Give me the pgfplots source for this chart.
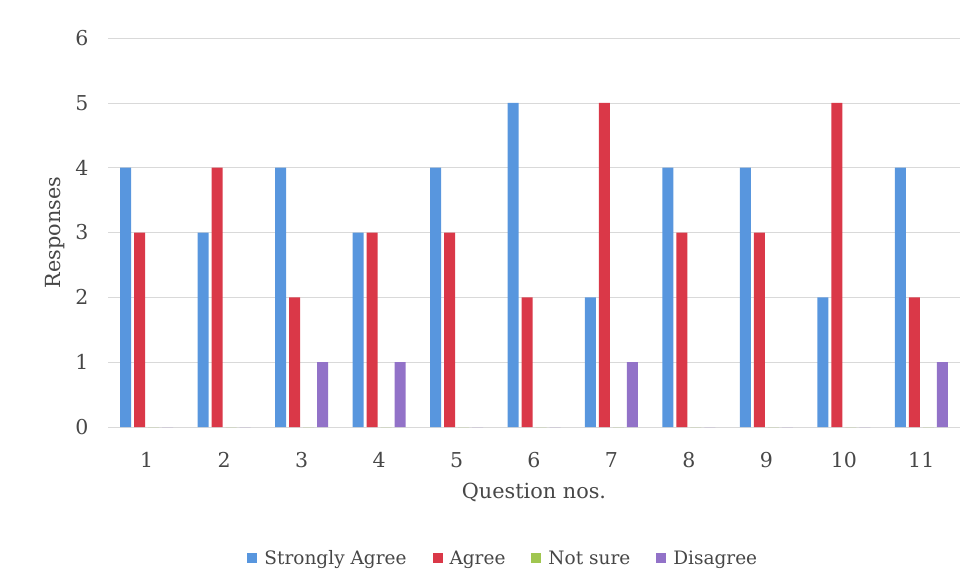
\documentclass[border=0pt]{standalone}
\usepackage{fontspec}
\setmainfont{DejaVu Serif}
\usepackage{pgfplots}
\pgfplotsset{compat=1.18}

\definecolor{saBlue}{RGB}{88,150,222}
\definecolor{agRed}{RGB}{218,56,72}
\definecolor{nsGreen}{RGB}{160,198,80}
\definecolor{dsPurple}{RGB}{146,114,200}

\begin{document}
\begin{tikzpicture}
\useasboundingbox (0,0) rectangle (974pt,587pt);
\begin{axis}[
    at={(108pt,160pt)}, anchor=south west,
    scale only axis, width=852pt, height=389pt,
    ybar, bar width=11pt, ybar=3pt,
    xmin=0.5, xmax=11.5, ymin=0, ymax=6,
    xtick={1,...,11}, ytick={0,...,6},
    ymajorgrids, grid style={gray!30, line width=0.6pt},
    axis line style={draw=none}, tick style={draw=none},
    /pgf/number format/assume math mode=true,
    tick label style={font=\fontsize{20.5}{24}\selectfont, text=black!72},
    xticklabel style={anchor=center, yshift=-29pt},
    yticklabel style={anchor=center, xshift=-26pt},
    xlabel={Question nos.}, ylabel={Responses},
    label style={font=\fontsize{20.8}{24}\selectfont, text=black!72},
    xlabel style={at={(rel axis cs:0.5,-0.167)}, anchor=center},
    ylabel style={at={(rel axis cs:-0.062,0.5)}, anchor=center},
    legend columns=4,
    legend style={at={(rel axis cs:0.464,-0.337)}, anchor=center, draw=none,
        font=\fontsize{18.5}{22}\selectfont, text=black!72,
        /tikz/every even column/.append style={column sep=24pt},
        /tikz/every odd column/.append style={column sep=5pt}},
    legend image code/.code={\fill[#1] (0pt,-5pt) rectangle (10pt,5pt);},
]
\addplot[fill=saBlue, draw=none] coordinates {
    (1,4) (2,3) (3,4) (4,3) (5,4) (6,5) (7,2) (8,4) (9,4) (10,2) (11,4)};
\addplot[fill=agRed, draw=none] coordinates {
    (1,3) (2,4) (3,2) (4,3) (5,3) (6,2) (7,5) (8,3) (9,3) (10,5) (11,2)};
\addplot[fill=nsGreen, draw=none] coordinates {
    (1,0) (2,0) (3,0) (4,0) (5,0) (6,0) (7,0) (8,0) (9,0) (10,0) (11,0)};
\addplot[fill=dsPurple, draw=none] coordinates {
    (1,0) (2,0) (3,1) (4,1) (5,0) (6,0) (7,1) (8,0) (9,0) (10,0) (11,1)};
\legend{Strongly Agree, Agree, Not sure, Disagree}
\end{axis}
\end{tikzpicture}
\end{document}
